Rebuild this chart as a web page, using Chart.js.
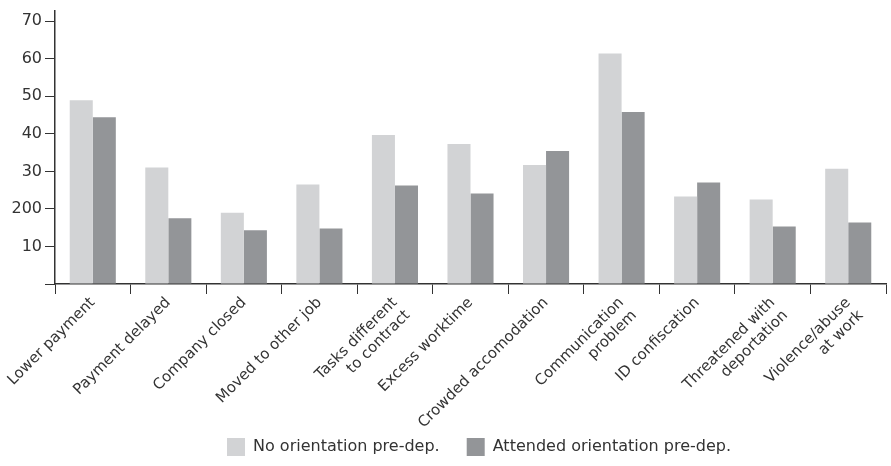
<!DOCTYPE html>
<html>
<head>
<meta charset="utf-8">
<script src="https://cdn.jsdelivr.net/npm/chart.js@4"></script>
<style>
  html, body { margin: 0; padding: 0; background: #fff; }
  #wrap { width: 891px; height: 466px; position: relative; }
</style>
</head>
<body>
<div id="wrap"><canvas id="myChart"></canvas></div>
<script>
// categorías y series
const categories = [
  "Lower payment", "Payment delayed", "Company closed", "Moved to other job",
  ["Tasks different", "to contract"], "Excess worktime", "Crowded accomodation",
  ["Communication", "problem"], "ID confiscation", ["Threatened with", "deportation"],
  ["Violence/abuse", "at work"]
];
const noOrientation = [48.9, 31.0, 19.0, 26.5, 39.7, 37.3, 31.7, 61.4, 23.3, 22.5, 30.7];
const attended = [44.4, 17.5, 14.3, 14.8, 26.2, 24.1, 35.4, 45.8, 27.0, 15.3, 16.4];
const yTickValues = [0, 10, 20, 30, 40, 50, 60, 70];
const yTickLabels = ["", "10", "200", "30", "40", "50", "60", "70"];

const FONT = "'DejaVu Sans', sans-serif";
const AXIS = "#333333";

// leyenda algo a la derecha y etiquetas del eje x sin recortar
const ajustes = {
  id: "ajustes",
  afterLayout(c) {
    if (c.legend) { c.legend.left += 36; c.legend.right += 36; }
    c.scales.x.bottom = c.height;
  }
};

const ctx = document.getElementById("myChart").getContext("2d");
const chart = new Chart(ctx, {
  type: "bar",
  data: {
    labels: categories,
    datasets: [
      { label: "No orientation pre-dep.", data: noOrientation, backgroundColor: "#d2d3d5" },
      { label: "Attended orientation pre-dep.", data: attended, backgroundColor: "#939598" }
    ]
  },
  plugins: [ajustes],
  options: {
    responsive: true,
    maintainAspectRatio: false,
    animation: false,
    layout: { padding: { top: 6, right: 5, left: 0, bottom: 0 } },
    datasets: { bar: { barPercentage: 1, categoryPercentage: 0.61 } },
    plugins: {
      legend: {
        position: "bottom",
        labels: {
          font: { family: FONT, size: 16 },
          color: "#333",
          boxWidth: 18,
          boxHeight: 18,
          padding: 27
        }
      },
      tooltip: { enabled: false }
    },
    scales: {
      x: {
        afterFit: s => { s.height = 127; },
        grid: { drawOnChartArea: false, offset: true, tickLength: 10, color: AXIS },
        border: { color: AXIS, width: 1.5 },
        ticks: {
          minRotation: 45, maxRotation: 45, padding: 0,
          color: "#333",
          font: { family: FONT, size: 15 }
        }
      },
      y: {
        min: 0,
        max: 72.7,
        afterFit: s => { s.width = 55; },
        afterBuildTicks: scale => {
          scale.ticks = yTickValues.map(v => ({ value: v }));
        },
        grid: { drawOnChartArea: false, tickLength: 10, color: AXIS },
        border: { color: AXIS, width: 1.5 },
        ticks: {
          padding: 3,
          color: "#333",
          font: { family: FONT, size: 16, lineHeight: 1 },
          callback: v => yTickLabels[yTickValues.indexOf(v)] ?? ""
        }
      }
    }
  }
});
</script>
</body>
</html>
